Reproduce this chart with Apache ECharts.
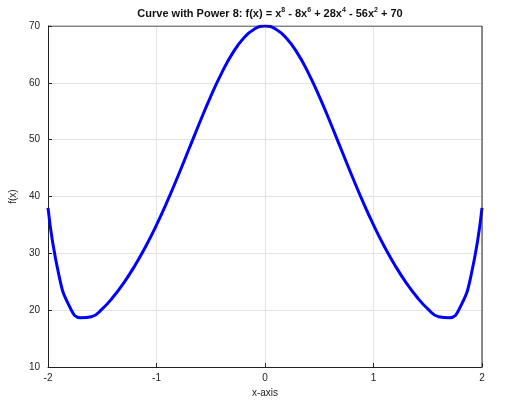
<!DOCTYPE html>
<html>
<head>
<meta charset="utf-8">
<script src="https://cdn.jsdelivr.net/npm/echarts@6/dist/echarts.min.js"></script>
<style>html,body{margin:0;padding:0;background:#fff}#chart{width:528px;height:403px}</style>
</head>
<body>
<div id="chart"></div>
<script>
// values, x from -2 to 2
var xValues = [-2.0,-1.9,-1.8,-1.7,-1.6,-1.5,-1.4,-1.3,-1.2,-1.1,-1.0,-0.9,-0.8,-0.7,-0.6,-0.5,-0.4,-0.3,-0.2,-0.1,0,
               0.1,0.2,0.3,0.4,0.5,0.6,0.7,0.8,0.9,1.0,1.1,1.2,1.3,1.4,1.5,1.6,1.7,1.8,1.9,2.0];
var yValues = [38,26.2,20.6,18.68,18.87,20.25,22.33,24.87,27.83,31.21,35,39.19,43.7,48.4,53.11,57.63,61.72,65.18,67.8,69.44,70,
               69.44,67.8,65.18,61.72,57.63,53.11,48.4,43.7,39.19,35,31.21,27.83,24.87,22.33,20.25,18.87,18.68,20.6,26.2,38];
var xTicks = [-2, -1, 0, 1, 2];
var yTicks = [10, 20, 30, 40, 50, 60, 70];

var points = xValues.map(function(x, i) { return [x, yValues[i]]; });
var chart = echarts.init(document.getElementById('chart'));
var font = 'Liberation Sans, Arial, sans-serif';
var axisCommon = {
    axisLine: { show: true, onZero: false, lineStyle: { color: '#222' } },
    axisTick: { show: true, inside: true, length: 4, lineStyle: { color: '#222' } },
    axisLabel: { color: '#222', fontSize: 10, fontFamily: font },
    splitLine: { show: true, lineStyle: { color: '#e3e3e3' } },
    nameLocation: 'middle',
    nameTextStyle: { color: '#222', fontSize: 10, fontFamily: font }
};
chart.setOption({
    animation: false,
    title: {
        text: '{b|Curve with Power 8: f(x) = x}{s|8}{b| - 8x}{s|6}{b| + 28x}{s|4}{b| - 56x}{s|2}{b| + 70}',
        left: 265, textAlign: 'center', top: 2,
        textStyle: {
            rich: {
                b: { fontSize: 11, fontWeight: 'bold', fontFamily: font, color: '#111' },
                s: { fontSize: 7, fontWeight: 'bold', fontFamily: font, color: '#111', verticalAlign: 'top', padding: [0, 0, 6, 0] }
            }
        }
    },
    grid: { left: 48, right: 46, top: 26, bottom: 33 },
    xAxis: Object.assign({}, axisCommon, {
        type: 'value', min: -2, max: 2, interval: 1, name: 'x-axis', nameGap: 16,
        axisLabel: Object.assign({}, axisCommon.axisLabel, { margin: 6 })
    }),
    yAxis: Object.assign({}, axisCommon, {
        type: 'value', min: 10, max: 70, interval: 10, name: 'f(x)', nameGap: 26
    }),
    series: [{
        type: 'line', data: points, smooth: true, showSymbol: false,
        lineStyle: { color: '#0000ff', width: 3 }
    }, {
        // frame top/right edges
        type: 'line', data: [[-2, 70], [2, 70], [2, 10]], showSymbol: false, silent: true,
        lineStyle: { color: '#222', width: 1 }
    }]
});
</script>
</body>
</html>
